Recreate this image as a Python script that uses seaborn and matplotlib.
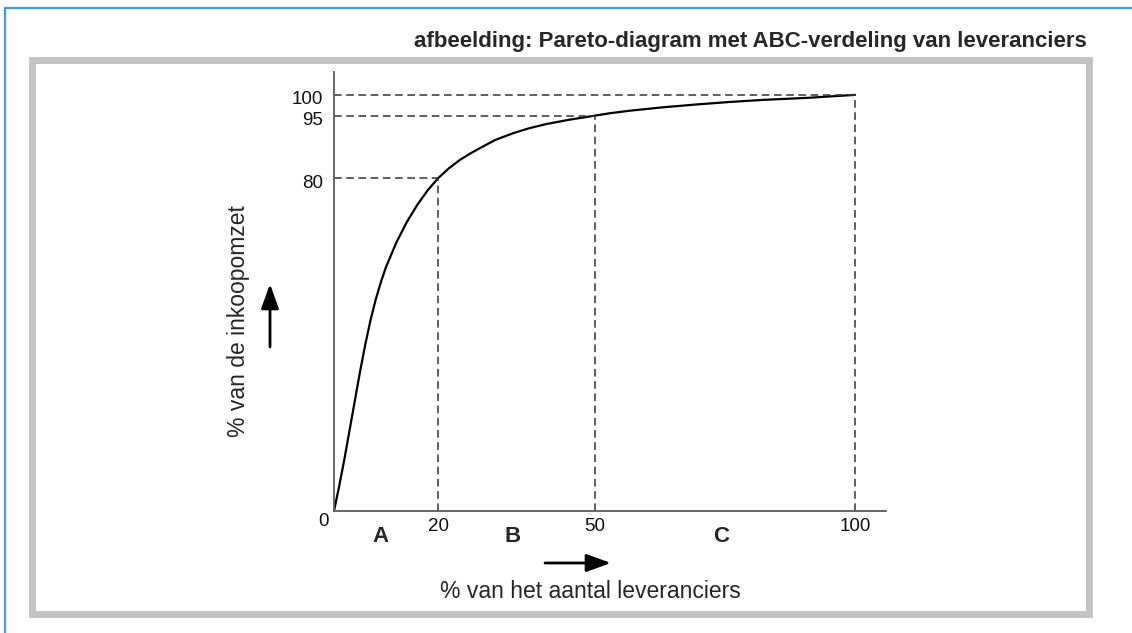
import matplotlib
matplotlib.use("Agg")
import matplotlib.pyplot as plt
from matplotlib.patches import Rectangle, FancyArrowPatch
from matplotlib.lines import Line2D
import matplotlib.transforms as mtransforms
import seaborn as sns

# data
pct_suppliers = [0, 1, 2, 3, 4, 5, 6, 7, 8, 9, 10, 12, 14, 16, 18, 20,
                 22.0, 24.2, 26.0, 28.0, 31.0, 34.4, 37.5, 40.8, 45.0, 50,
                 53.0, 56.8, 63.0, 69.6, 76.0, 82.4, 91.0, 100]
pct_purchase = [0, 6.0, 12.5, 19.5, 26.5, 33.5, 40.0, 45.8, 50.8, 55.0, 58.7, 64.6, 69.5, 73.6, 77.1, 80,
                82.3, 84.4, 85.8, 87.2, 89.2, 90.8, 92.0, 93.0, 94.0, 95,
                95.6, 96.2, 97.0, 97.7, 98.3, 98.8, 99.3, 100]
cut_x = [20, 50, 100]
cut_y = [80, 95, 100]
x_ticks = ["20", "50", "100"]
y_ticks = ["80", "95", "100"]
classes = ["A", "B", "C"]
class_pos = [9.0, 34.2, 74.3]

title = "afbeelding: Pareto-diagram met ABC-verdeling van leveranciers"
xlabel = "% van het aantal leveranciers"
ylabel = "% van de inkoopomzet"

sns.set_style("white")
plt.rcParams['font.family'] = ['Liberation Sans', 'DejaVu Sans']

W, H = 1132, 633
fig = plt.figure(figsize=(W / 100, H / 100), dpi=100)

def fx(px):
    return px / W

def fy(py):
    return 1 - py / H

# blue edge lines and grey frame
fig.add_artist(Line2D([fx(5), fx(5)], [fy(8), 0], color='#3d9be9', lw=1.6))
fig.add_artist(Line2D([fx(5), 1], [fy(8), fy(8)], color='#3d9be9', lw=1.6))
fig.add_artist(Rectangle((fx(31.5), fy(613.5)), fx(1088.5) - fx(31.5), fy(59.5) - fy(613.5),
                         fill=False, ec='#c3c3c3', lw=5.0))

ax = fig.add_axes([fx(334), fy(511), fx(886) - fx(334), fy(72) - fy(511)])
sns.lineplot(x=pct_suppliers, y=pct_purchase, color='black', lw=1.6, ax=ax, sort=False)

for cx, cy in zip(cut_x, cut_y):
    ax.plot([0, cx], [cy, cy], color='#333333', lw=1.1, dashes=(5, 3))
    ax.plot([cx, cx], [0, cy], color='#333333', lw=1.1, dashes=(5, 3))

ax.set_xlim(0, 105.95)
ax.set_ylim(0, 105.5)
sns.despine(ax=ax)
for s in ['left', 'bottom']:
    ax.spines[s].set_color('#5a5a5a')
    ax.spines[s].set_linewidth(1.3)

ax.set_xticks(cut_x)
ax.set_xticklabels(x_ticks)
ax.set_yticks(cut_y)
ax.set_yticklabels(y_ticks)
ax.tick_params(axis='x', length=0, pad=5, labelsize=13.5, colors='#111111')
ax.tick_params(axis='y', length=0, pad=8, labelsize=13.5, colors='#111111')
shift = mtransforms.ScaledTranslation(0, -0.03, fig.dpi_scale_trans)
for lab in ax.get_yticklabels():
    lab.set_transform(lab.get_transform() + shift)

trans = mtransforms.blended_transform_factory(ax.transData, ax.transAxes)
ax.text(-2.1, -0.025, "0", transform=trans, ha='center', va='center', fontsize=13.5, color='#111111')
for lab, xp in zip(classes, class_pos):
    ax.text(xp, -0.059, lab, transform=trans, ha='center', va='center',
            fontsize=16, fontweight='bold')

fig.text(fx(590), fy(591), xlabel, ha='center', va='center', fontsize=16.5)
fig.text(fx(239), fy(321), ylabel, ha='center', va='center', fontsize=16.5, rotation=90)
fig.text(fx(1087), fy(47), title, ha='right', va='baseline', fontsize=16, fontweight='bold')

# arrows
style = '-|>,head_length=0.75,head_width=0.27'
fig.add_artist(FancyArrowPatch((fx(545), fy(563)), (fx(611), fy(563)), transform=fig.transFigure,
               arrowstyle=style, mutation_scale=20, color='black', lw=2,
               shrinkA=0, shrinkB=0))
fig.add_artist(FancyArrowPatch((fx(270), fy(347)), (fx(270), fy(284)), transform=fig.transFigure,
               arrowstyle=style, mutation_scale=20, color='black', lw=2,
               shrinkA=0, shrinkB=0))

fig.savefig("out.png", dpi=100)
